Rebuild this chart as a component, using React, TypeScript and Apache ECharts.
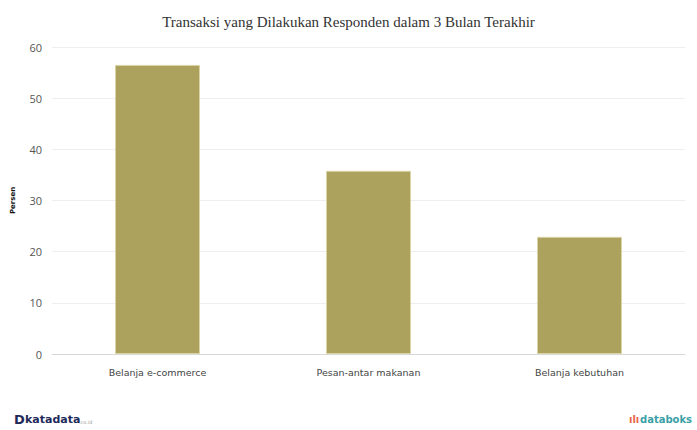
import React, { useEffect, useRef } from "react";
import * as echarts from "echarts";

const categories = ["Belanja e-commerce", "Pesan-antar makanan", "Belanja kebutuhan"];
const values = [56.5, 35.8, 22.9];
const yTicks = [0, 10, 20, 30, 40, 50, 60];
const title = "Transaksi yang Dilakukan Responden dalam 3 Bulan Terakhir";
const yName = "Persen";

export default function App() {
  const ref = useRef<HTMLDivElement>(null);
  useEffect(() => {
    document.body.style.margin = "0";
    if (!ref.current) return;
    const chart = echarts.init(ref.current, null, { renderer: "svg" });
    chart.setOption({
      animation: false,
      backgroundColor: "#ffffff",
      title: {
        text: title,
        left: "center",
        top: 9,
        textStyle: {
          fontFamily: "Liberation Serif",
          fontSize: 15,
          fontWeight: "normal",
          color: "#333333",
        },
      },
      grid: { left: 52, right: 12, top: 47, bottom: 76 },
      xAxis: {
        type: "category",
        data: categories,
        axisLine: { lineStyle: { color: "#d8d8d8" } },
        axisTick: { alignWithLabel: true, lineStyle: { color: "#d8d8d8" }, length: 6 },
        axisLabel: {
          fontFamily: "DejaVu Sans",
          fontSize: 9.5,
          color: "#444444",
          margin: 13,
        },
      },
      yAxis: {
        type: "value",
        min: yTicks[0],
        max: yTicks[yTicks.length - 1],
        interval: 10,
        name: yName,
        nameLocation: "middle",
        nameGap: 36,
        nameTextStyle: {
          fontFamily: "DejaVu Sans",
          fontSize: 7,
          fontWeight: "bold",
          color: "#111111",
        },
        axisLine: { show: false },
        axisTick: { show: false },
        splitLine: { lineStyle: { color: "#eeeeee" } },
        axisLabel: {
          fontFamily: "Open Sans",
          fontSize: 11,
          color: "#555555",
          margin: 10,
        },
      },
      series: [
        {
          type: "bar",
          data: values,
          barWidth: 85,
          itemStyle: {
            color: "#ada25d",
            borderColor: "#d9d3a6",
            borderWidth: 1,
          },
        },
      ],
      graphic: [
        {
          type: "text",
          left: 14,
          top: 413,
          style: {
            text: "D",
            fontFamily: "DejaVu Sans",
            fontWeight: "bold",
            fontSize: 13,
            fill: "#1e2a5a",
          },
        },
        {
          type: "text",
          left: 25,
          top: 414,
          style: {
            text: "katadata",
            fontFamily: "DejaVu Sans",
            fontWeight: "bold",
            fontSize: 11,
            fill: "#1e2a5a",
          },
        },
        {
          type: "text",
          left: 79,
          top: 419,
          style: {
            text: ".co.id",
            fontFamily: "DejaVu Sans",
            fontSize: 5,
            fill: "#999999",
          },
        },
        {
          type: "text",
          left: 629,
          top: 414,
          style: {
            text: "ılı",
            fontFamily: "DejaVu Sans",
            fontWeight: "bold",
            fontSize: 10,
            fill: "#e8674a",
          },
        },
        {
          type: "text",
          left: 640,
          top: 414,
          style: {
            text: "databoks",
            fontFamily: "DejaVu Sans",
            fontWeight: "bold",
            fontSize: 10,
            fill: "#3a9fa6",
          },
        },
      ],
    });
    return () => chart.dispose();
  }, []);
  return (
    <div
      ref={ref}
      style={{ position: "fixed", left: 0, top: 0, width: 697, height: 430 }}
    />
  );
}
